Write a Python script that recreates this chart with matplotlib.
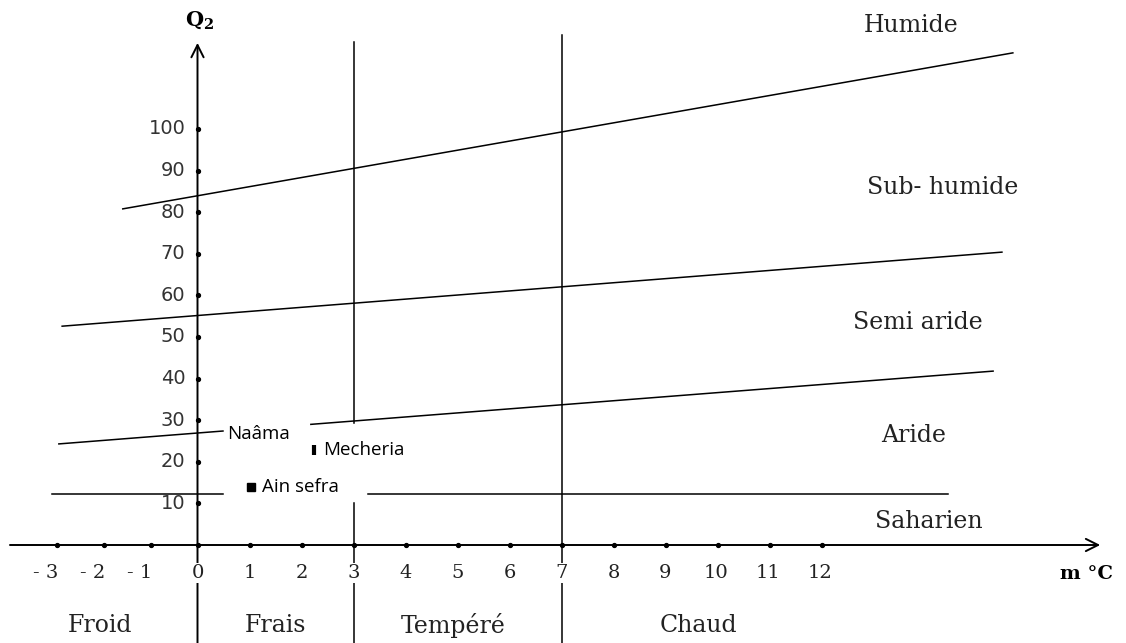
import numpy as np
import matplotlib
matplotlib.use("Agg")
import matplotlib.pyplot as plt

# ---------------- data ----------------
temp_ticks = [-3, -2, -1, 0, 1, 2, 3, 4, 5, 6, 7, 8, 9, 10, 11, 12]
q2_ticks = [10, 20, 30, 40, 50, 60, 70, 80, 90, 100]

humide_x = [-1.59, 15.68]
humide_y = [80.8, 118.3]
subhumide_x = [-2.88, 15.47]
subhumide_y = [52.6, 70.4]
aride_left_x = [-2.95, 0.49]
aride_left_y = [24.3, 27.4]
aride_right_x = [2.18, 15.3]
aride_right_y = [29.0, 41.8]
saharien_y = 12.3
saharien_left_x = [-3.1, 0.49]
saharien_right_x = [3.28, 14.43]

v3_top_y = [120.9, 29.3]
v3_bot_y = [10.1, -30.0]
v7_y = [122.6, -30.0]

stations = ["Naâma", "Mecheria", "Ain sefra"]
station_x = [0.49, 2.24, 1.03]
station_y = [27.4, 22.8, 13.9]
station_marker = ["none", "|", "s"]

zones = ["Humide", "Sub- humide", "Semi aride", "Aride", "Saharien"]
zone_pos = [(911, 25), (943, 188), (918, 322), (914, 435), (929, 522)]
thermal = ["Froid", "Frais", "Tempéré", "Chaud"]
thermal_pos = [(100, 626), (276, 626), (453, 626), (698, 626)]

# ---------------- figure ----------------
W, H = 1126, 643
fig = plt.figure(figsize=(W / 100, H / 100), dpi=100)
ax = fig.add_axes([0, 0, 1, 1])

NEG = 47 / 52


def fwd(x):
    x = np.asarray(x, float)
    return np.where(x < 0, x * NEG, x)


def inv(x):
    x = np.asarray(x, float)
    return np.where(x < 0, x / NEG, x)


ax.set_xscale("function", functions=(fwd, inv))
ax.set_xlim(float(inv(-197.5 / 52)), (W - 197.5) / 52)
ax.set_ylim((545 - H) / 4.16, 545 / 4.16)
ax.axis("off")


def P(px, py):
    return px / W, 1 - py / H


lw = 1.1
k = "black"
# axes with arrows
ax.annotate("", xy=(17.36, 0), xytext=(-3.99, 0),
            arrowprops=dict(arrowstyle="->", lw=1.4, color=k,
                            mutation_scale=22, shrinkA=0, shrinkB=0))
ax.annotate("", xy=(0, 120.7), xytext=(0, -30),
            arrowprops=dict(arrowstyle="->", lw=1.4, color=k,
                            mutation_scale=22, shrinkA=0, shrinkB=0))

# boundary lines
ax.plot(humide_x, humide_y, color=k, lw=lw)
ax.plot(subhumide_x, subhumide_y, color=k, lw=lw)
ax.plot(aride_left_x, aride_left_y, color=k, lw=lw)
ax.plot(aride_right_x, aride_right_y, color=k, lw=lw)
ax.plot(saharien_left_x, [saharien_y] * 2, color=k, lw=lw)
ax.plot(saharien_right_x, [saharien_y] * 2, color=k, lw=lw)
ax.plot([3, 3], v3_top_y, color=k, lw=lw)
ax.plot([3, 3], v3_bot_y, color=k, lw=lw)
ax.plot([7, 7], v7_y, color=k, lw=lw)

# tick dots
ax.plot(temp_ticks, [0] * len(temp_ticks), "o", color=k, ms=2.8, ls="none")
ax.plot([0] * len(q2_ticks), q2_ticks, "o", color=k, ms=2.8, ls="none")

# tick labels
for t in temp_ticks:
    if t < 0:
        ax.annotate(f"- {-t}", (t, 0), xytext=(2, -28), textcoords="offset pixels",
                    ha="right", va="center", fontsize=14, family="DejaVu Serif",
                    color="#222222",
                    bbox=dict(fc="white", ec="none", pad=0.5), zorder=4)
    else:
        ax.annotate(f"{t}", (t, 0), xytext=(-2 if t >= 10 else 0, -28),
                    textcoords="offset pixels",
                    ha="center", va="center", fontsize=14, family="DejaVu Serif",
                    color="#222222",
                    bbox=dict(fc="white", ec="none", pad=0.5), zorder=4)
for q in q2_ticks:
    ax.annotate(f"{q}", (0, q), xytext=(-12, 0), textcoords="offset pixels",
                ha="right", va="center", fontsize=14, family="DejaVu Sans",
                color="#333333")

# axis titles
ax.text(*P(200, 20), r"$\mathbf{Q_2}$", transform=ax.transAxes, ha="center",
        va="center", fontsize=15, math_fontfamily="dejavuserif")
ax.text(*P(1086, 574), "m °C", transform=ax.transAxes, ha="center", va="center",
        fontsize=14, family="DejaVu Serif", fontweight="bold")

# zone labels
for name, (px, py) in zip(zones, zone_pos):
    ax.text(*P(px, py), name, transform=ax.transAxes, ha="center", va="center",
            fontsize=17, family="DejaVu Serif", color="#222222")
for name, (px, py) in zip(thermal, thermal_pos):
    ax.text(*P(px, py), name, transform=ax.transAxes, ha="center", va="center",
            fontsize=17, family="DejaVu Serif", color="#222222",
            bbox=dict(fc="white", ec="none", pad=1), zorder=4)

# stations
offsets = [(4, -3), (9, 0), (11, 0)]
for name, sx, sy, m, off in zip(stations, station_x, station_y, station_marker, offsets):
    if m == "|":
        ax.plot(sx, sy, marker="|", ms=7, mew=3, color=k, ls="none")
    elif m == "s":
        ax.plot(sx, sy, marker="s", ms=6, color=k, ls="none")
    ax.annotate(name, (sx, sy), xytext=off, textcoords="offset pixels",
                ha="left", va="center", fontsize=13.5, family="Open Sans")

fig.savefig("out.png", dpi=100)
